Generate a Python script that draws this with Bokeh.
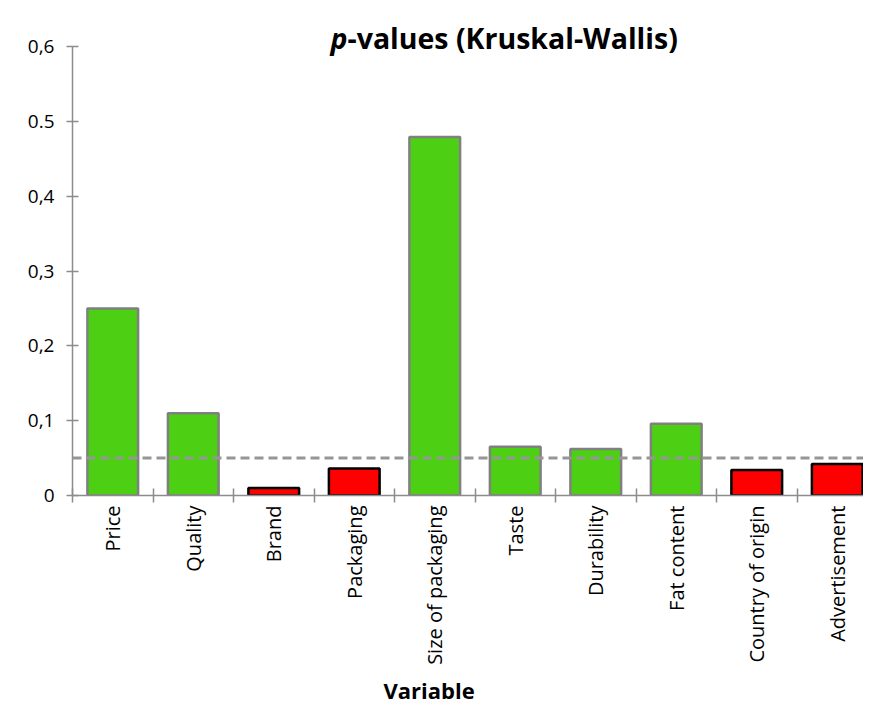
import math
from bokeh.plotting import figure
from bokeh.models import ColumnDataSource, Range1d, FixedTicker, Span, Label, Title
from bokeh.embed import file_html
from bokeh.resources import INLINE

categories = ["Price", "Quality", "Brand", "Packaging", "Size of packaging",
              "Taste", "Durability", "Fat content", "Country of origin", "Advertisement"]
p_values = [0.25, 0.11, 0.01, 0.036, 0.479, 0.065, 0.062, 0.096, 0.034, 0.042]
threshold = 0.05
y_ticks = [0, 0.1, 0.2, 0.3, 0.4, 0.5, 0.6]
y_tick_labels = ["0", "0,1", "0,2", "0,3", "0,4", "0.5", "0,6"]

GREEN = "#4dcf14"
RED = "#ff0000"

xs = [i + 0.5 for i in range(len(categories))]
fills = [GREEN if v > threshold else RED for v in p_values]
lines = ["#808080" if v > threshold else "#000000" for v in p_values]
src = ColumnDataSource(dict(x=xs, top=p_values, fill=fills, line=lines))

W, H = 863, 710
FRAME_LEFT, FRAME_BOTTOM, Y06_PX = 72, 495, 46
y_max = 0.6 * FRAME_BOTTOM / (FRAME_BOTTOM - Y06_PX)
x_max = (W - FRAME_LEFT) / 80.5

p = figure(width=W, height=H, output_backend="svg", toolbar_location=None,
           x_range=Range1d(0, x_max), y_range=Range1d(0, y_max),
           min_border_left=FRAME_LEFT, min_border_right=0, min_border_top=0,
           min_border_bottom=H - FRAME_BOTTOM)
p.outline_line_color = None
p.xgrid.visible = False
p.ygrid.visible = False
p.background_fill_color = "white"
p.border_fill_color = "white"

p.vbar(x="x", top="top", bottom=0, width=0.63, source=src,
       fill_color="fill", line_color="line", line_width=2.5)

p.add_layout(Span(location=threshold, dimension="width", line_color="#969696",
                  line_width=3, line_dash="9 5"))

AX = "#8c8c8c"
# x axis
p.xaxis.ticker = FixedTicker(ticks=xs, minor_ticks=list(range(0, 10)))
p.xaxis.major_label_overrides = {x: c for x, c in zip(xs, categories)}
p.xaxis.major_tick_line_color = None
p.xaxis.minor_tick_line_color = AX
p.xaxis.minor_tick_line_width = 1.5
p.xaxis.minor_tick_in = 7
p.xaxis.minor_tick_out = 7
p.xaxis.axis_line_color = AX
p.xaxis.axis_line_width = 1.5
p.xaxis.major_label_orientation = math.pi / 2
p.xaxis.major_label_text_font = "Open Sans"
p.xaxis.major_label_text_font_size = "20px"
p.xaxis.major_label_text_color = "black"
p.xaxis.major_label_standoff = 3

# y axis
p.yaxis.bounds = (0, 0.6)
p.yaxis.ticker = FixedTicker(ticks=y_ticks, minor_ticks=[])
p.yaxis.major_label_overrides = {t: l for t, l in zip(y_ticks, y_tick_labels)}
p.yaxis.axis_line_color = AX
p.yaxis.axis_line_width = 1.5
p.yaxis.major_tick_line_color = AX
p.yaxis.major_tick_line_width = 1.5
p.yaxis.major_tick_in = 6
p.yaxis.major_tick_out = 6
p.yaxis.minor_tick_line_color = None
p.yaxis.major_label_text_font = "Open Sans"
p.yaxis.major_label_text_font_size = "19px"
p.yaxis.major_label_text_color = "black"
p.yaxis.major_label_standoff = 12

# title with italic p (inside the frame's top band)
p.add_layout(Label(x=258, y=FRAME_BOTTOM - 37, x_units="screen", y_units="screen",
                   text="p", text_baseline="alphabetic",
                   text_font="Open Sans", text_font_size="28.5px",
                   text_font_style="bold italic", text_color="black"))
p.add_layout(Label(x=275, y=FRAME_BOTTOM - 37, x_units="screen", y_units="screen",
                   text="-values (Kruskal-Wallis)", text_baseline="alphabetic",
                   text_font="Open Sans", text_font_size="28.5px",
                   text_font_style="bold", text_color="black"))

# x axis title
p.add_layout(Title(text="Variable", align="left", offset=311, standoff=10,
                   text_font="Open Sans", text_font_size="22px",
                   text_font_style="bold", text_color="black"), "below")

open("out.html", "w").write(file_html(p, INLINE))
